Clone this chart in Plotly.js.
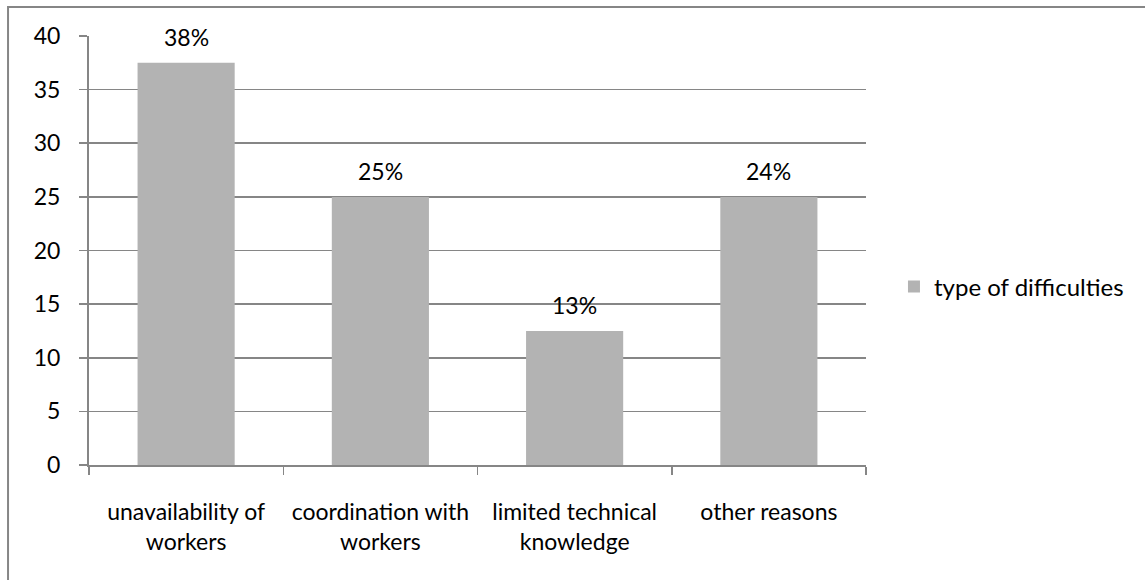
<!DOCTYPE html>
<html>
<head>
<meta charset="utf-8">
<script src="https://cdn.plot.ly/plotly-3.0.1.min.js"></script>
<style>html,body{margin:0;padding:0;background:#fff;}#chart{width:1145px;height:580px;}</style>
</head>
<body>
<div id="chart"></div>
<script>
var categories = ["unavailability of<br>workers", "coordination with<br>workers", "limited technical<br>knowledge", "other reasons"];
var values = [37.5, 25, 12.5, 25];
var pctLabels = ["38%", "25%", "13%", "24%"];
var seriesName = "type of difficulties";

var FONT = "Lato, 'Open Sans', sans-serif";
var FS = 23;
var annotations = categories.map(function (c, i) {
  return {x: c, y: values[i], xref: 'x', yref: 'y', text: pctLabels[i], showarrow: false,
          yshift: 26, font: {family: FONT, size: FS, color: '#000'}};
});

var trace = {
  type: 'bar', x: categories, y: values, name: seriesName,
  marker: {color: '#b3b3b3'}, showlegend: true, hoverinfo: 'none'
};

var layout = {
  width: 1145, height: 580,
  margin: {l: 89, r: 279, t: 36, b: 115, pad: 0},
  paper_bgcolor: '#fff', plot_bgcolor: '#fff',
  bargap: 0.5,
  font: {family: FONT, size: FS, color: '#000'},
  xaxis: {
    type: 'category', showgrid: false, zeroline: false,
    showline: true, linecolor: '#868686', linewidth: 2,
    ticks: 'outside', tickson: 'boundaries', ticklen: 8, tickcolor: '#868686', tickwidth: 1.5,
    tickangle: 0, automargin: false,
    ticklabelstandoff: 25,
    tickfont: {family: FONT, size: FS, color: '#000'}
  },
  yaxis: {
    range: [0, 40], dtick: 5, tick0: 0,
    showgrid: true, gridcolor: '#868686', gridwidth: 1.6,
    zeroline: false, showline: true, linecolor: '#868686', linewidth: 2,
    ticks: 'outside', ticklen: 8, tickcolor: '#868686', tickwidth: 1.6,
    ticklabelstandoff: 14,
    tickfont: {family: FONT, size: FS, color: '#000'}
  },
  legend: {
    x: 1.036, y: 0.415, xanchor: 'left', yanchor: 'middle',
    font: {family: FONT, size: 24, color: '#000'},
    bgcolor: 'rgba(0,0,0,0)', itemwidth: 30
  },
  annotations: annotations,
  shapes: [{
    type: 'rect', xref: 'paper', yref: 'paper', layer: 'below',
    x0: -0.1042, x1: 1.4, y0: -0.35, y1: 1.0676,
    line: {color: '#868686', width: 2}, fillcolor: 'rgba(0,0,0,0)'
  }]
};

Plotly.newPlot('chart', [trace], layout, {displayModeBar: false, staticPlot: true});
</script>
</body>
</html>
